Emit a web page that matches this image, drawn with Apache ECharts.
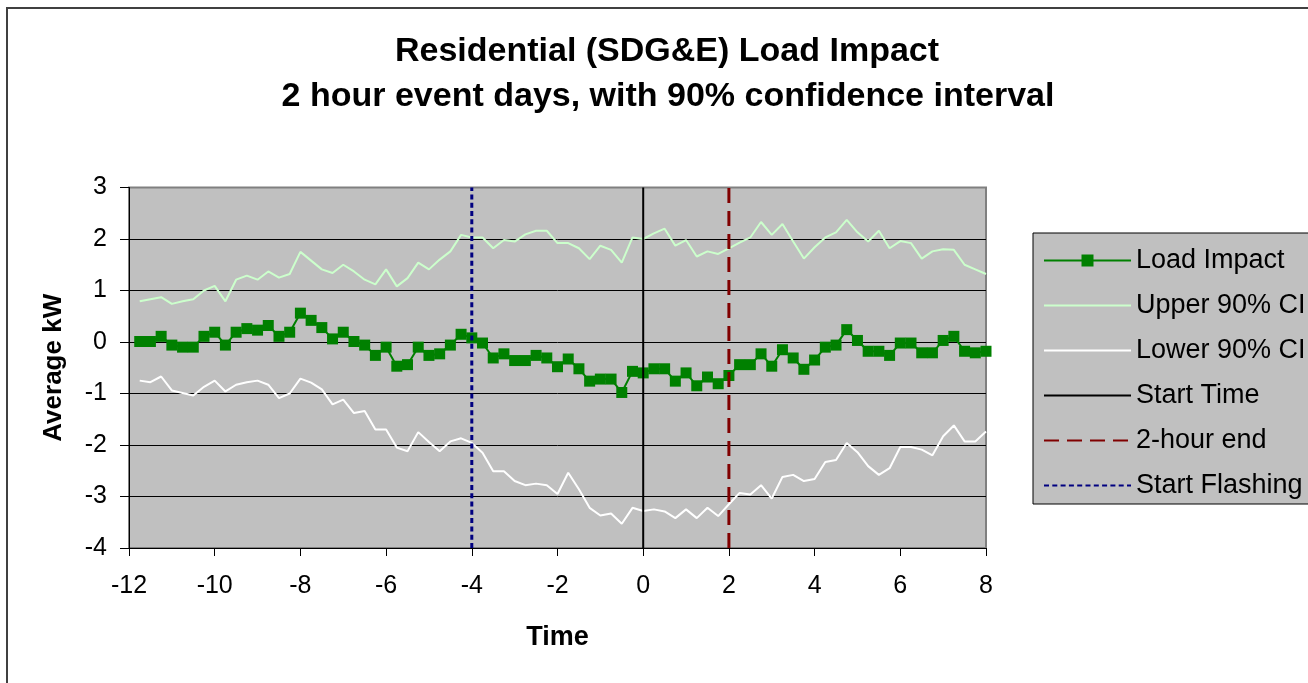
<!DOCTYPE html>
<html>
<head>
<meta charset="utf-8">
<script src="https://cdn.jsdelivr.net/npm/echarts@6/dist/echarts.min.js"></script>
<style>
  html, body { margin: 0; padding: 0; background: #ffffff; }
  #chart { width: 1308px; height: 683px; }
</style>
</head>
<body>
<div id="chart"></div>
<script>
// Hours relative to event start (15-minute steps)
const hours = [
  -11.75, -11.5, -11.25, -11, -10.75, -10.5, -10.25, -10, -9.75, -9.5,
  -9.25, -9, -8.75, -8.5, -8.25, -8, -7.75, -7.5, -7.25, -7,
  -6.75, -6.5, -6.25, -6, -5.75, -5.5, -5.25, -5, -4.75, -4.5,
  -4.25, -4, -3.75, -3.5, -3.25, -3, -2.75, -2.5, -2.25, -2,
  -1.75, -1.5, -1.25, -1, -0.75, -0.5, -0.25, 0, 0.25, 0.5,
  0.75, 1, 1.25, 1.5, 1.75, 2, 2.25, 2.5, 2.75, 3,
  3.25, 3.5, 3.75, 4, 4.25, 4.5, 4.75, 5, 5.25, 5.5,
  5.75, 6, 6.25, 6.5, 6.75, 7, 7.25, 7.5, 7.75, 8
];

// Average load impact (kW)
const loadImpact = [
  0.01, 0.01, 0.11, -0.06, -0.10, -0.10, 0.11, 0.19, -0.06, 0.19,
  0.26, 0.23, 0.32, 0.11, 0.19, 0.56, 0.42, 0.28, 0.06, 0.19,
  0.01, -0.06, -0.26, -0.10, -0.47, -0.44, -0.10, -0.26, -0.23, -0.06,
  0.15, 0.08, -0.02, -0.31, -0.23, -0.36, -0.36, -0.26, -0.31, -0.48,
  -0.33, -0.52, -0.76, -0.72, -0.72, -0.98, -0.57, -0.60, -0.52, -0.52,
  -0.76, -0.60, -0.85, -0.68, -0.81, -0.65, -0.44, -0.44, -0.23, -0.47,
  -0.15, -0.31, -0.53, -0.35, -0.10, -0.06, 0.24, 0.03, -0.18, -0.18,
  -0.26, -0.02, -0.02, -0.21, -0.21, 0.03, 0.11, -0.18, -0.21, -0.18
];

// Upper bound of the 90% confidence interval
const upperCI = [
  0.79, 0.83, 0.87, 0.74, 0.79, 0.83, 1.00, 1.09, 0.79, 1.21,
  1.29, 1.21, 1.37, 1.25, 1.32, 1.75, 1.58, 1.41, 1.34, 1.50,
  1.37, 1.21, 1.12, 1.41, 1.08, 1.24, 1.54, 1.41, 1.60, 1.76,
  2.08, 2.03, 2.03, 1.82, 1.98, 1.95, 2.09, 2.16, 2.16, 1.92,
  1.92, 1.82, 1.61, 1.87, 1.79, 1.54, 2.03, 2.00, 2.11, 2.20,
  1.87, 1.98, 1.66, 1.76, 1.71, 1.82, 1.93, 2.03, 2.33, 2.08,
  2.29, 1.95, 1.62, 1.84, 2.03, 2.13, 2.37, 2.13, 1.95, 2.16,
  1.82, 1.96, 1.92, 1.62, 1.76, 1.80, 1.79, 1.50, 1.41, 1.32
];

// Lower bound of the 90% confidence interval
const lowerCI = [
  -0.75, -0.78, -0.67, -0.94, -0.99, -1.04, -0.87, -0.75, -0.96, -0.83,
  -0.78, -0.75, -0.83, -1.09, -1.00, -0.71, -0.79, -0.92, -1.21, -1.12,
  -1.38, -1.34, -1.70, -1.70, -2.05, -2.12, -1.75, -1.94, -2.12, -1.93,
  -1.87, -1.96, -2.15, -2.51, -2.51, -2.70, -2.78, -2.75, -2.78, -2.95,
  -2.54, -2.86, -3.22, -3.37, -3.33, -3.53, -3.22, -3.28, -3.25, -3.29,
  -3.42, -3.25, -3.42, -3.22, -3.38, -3.15, -2.93, -2.96, -2.78, -3.04,
  -2.62, -2.58, -2.70, -2.66, -2.33, -2.29, -1.96, -2.14, -2.41, -2.58,
  -2.45, -2.04, -2.04, -2.09, -2.20, -1.83, -1.62, -1.93, -1.93, -1.74
];

// Event marker times (hours)
const startTime = 0;
const twoHourEnd = 2;
const startFlashing = -4;

// Axis ranges
const xRange = [-12, 8];
const yRange = [-4, 3];

const seriesNames = ['Load Impact', 'Upper 90% CI', 'Lower 90% CI', 'Start Time', '2-hour end', 'Start Flashing'];
const titleLines = ['Residential (SDG&E) Load Impact', '2 hour event days, with 90% confidence interval'];

const pairs = (ys) => hours.map((h, i) => [h, ys[i]]);
const vertical = (t) => [[t, yRange[0]], [t, yRange[1]]];

const FONT = 'Liberation Sans, Arial, Helvetica, sans-serif';

const chart = echarts.init(document.getElementById('chart'), null, { renderer: 'canvas' });

// Legend entries: only the load impact line shows its marker
const legendData = seriesNames.map((n, i) => i === 0 ? { name: n } : { name: n, itemStyle: { opacity: 0 } });

chart.setOption({
  backgroundColor: '#ffffff',
  animation: false,
  graphic: [
    {
      type: 'rect',
      shape: { x: 7, y: 8, width: 1400, height: 800 },
      style: { fill: 'none', stroke: '#404040', lineWidth: 2 },
      silent: true,
      z: 100
    },
    {
      type: 'text',
      x: 667, y: 52,
      style: {
        text: titleLines[0], fill: '#000', align: 'center', verticalAlign: 'middle',
        font: 'bold 34px ' + FONT
      }
    },
    {
      type: 'text',
      x: 668, y: 97,
      style: {
        text: titleLines[1], fill: '#000', align: 'center', verticalAlign: 'middle',
        font: 'bold 34px ' + FONT
      }
    }
  ],
  grid: {
    left: 129, right: 322, top: 187.5, bottom: 135,
    show: true,
    backgroundColor: '#c0c0c0',
    borderColor: '#808080',
    borderWidth: 2
  },
  legend: {
    orient: 'vertical',
    left: 1033,
    top: 233,
    padding: [14, 10, 5, 10],
    itemWidth: 87,
    itemHeight: 15,
    itemGap: 18,
    backgroundColor: '#c0c0c0',
    borderColor: '#000',
    borderWidth: 1,
    data: legendData,
    textStyle: { fontFamily: FONT, fontSize: 27, color: '#000', lineHeight: 27 }
  },
  xAxis: {
    type: 'value',
    min: xRange[0], max: xRange[1], interval: 2,
    name: 'Time',
    nameLocation: 'middle',
    nameGap: 76,
    nameTextStyle: { fontFamily: FONT, fontSize: 27, fontWeight: 'bold', color: '#000' },
    axisLine: { show: true, onZero: false, lineStyle: { color: '#000', width: 1 } },
    axisTick: { show: true, inside: false, length: 8, lineStyle: { color: '#000' } },
    axisLabel: { fontFamily: FONT, fontSize: 25, color: '#000', margin: 26 },
    splitLine: { show: false }
  },
  yAxis: {
    type: 'value',
    min: yRange[0], max: yRange[1], interval: 1,
    name: 'Average kW',
    nameLocation: 'middle',
    nameGap: 62,
    nameTextStyle: { fontFamily: FONT, fontSize: 26, fontWeight: 'bold', color: '#000' },
    axisLine: { show: true, onZero: false, lineStyle: { color: '#000', width: 1 } },
    axisTick: { show: true, inside: false, length: 9, lineStyle: { color: '#000' } },
    axisLabel: { fontFamily: FONT, fontSize: 25, color: '#000', margin: 22 },
    splitLine: {
      show: true,
      lineStyle: { color: ['#000', '#000', '#000', '#000', '#000', '#000', '#000', '#808080'], width: 1 }
    }
  },
  series: [
    {
      name: seriesNames[0],
      type: 'line',
      data: pairs(loadImpact),
      symbol: 'rect',
      symbolSize: 11,
      showAllSymbol: true,
      itemStyle: { color: '#008000' },
      lineStyle: { color: '#008000', width: 2 },
      z: 3
    },
    {
      name: seriesNames[1],
      type: 'line',
      data: pairs(upperCI),
      symbol: 'none',
      itemStyle: { color: '#ccffcc' },
      lineStyle: { color: '#ccffcc', width: 2 },
      z: 3
    },
    {
      name: seriesNames[2],
      type: 'line',
      data: pairs(lowerCI),
      symbol: 'none',
      itemStyle: { color: '#ffffff' },
      lineStyle: { color: '#ffffff', width: 2 },
      z: 3
    },
    {
      name: seriesNames[3],
      type: 'line',
      data: vertical(startTime),
      symbol: 'none',
      itemStyle: { color: '#000000' },
      lineStyle: { color: '#000000', width: 2 },
      z: 4
    },
    {
      name: seriesNames[4],
      type: 'line',
      data: vertical(twoHourEnd),
      symbol: 'none',
      itemStyle: { color: '#800000' },
      lineStyle: { color: '#800000', width: 3, type: [15, 8] },
      z: 4
    },
    {
      name: seriesNames[5],
      type: 'line',
      data: vertical(startFlashing),
      symbol: 'none',
      itemStyle: { color: '#000080' },
      lineStyle: { color: '#000080', width: 3, type: [5, 3.3] },
      z: 4
    }
  ]
});
</script>
</body>
</html>
